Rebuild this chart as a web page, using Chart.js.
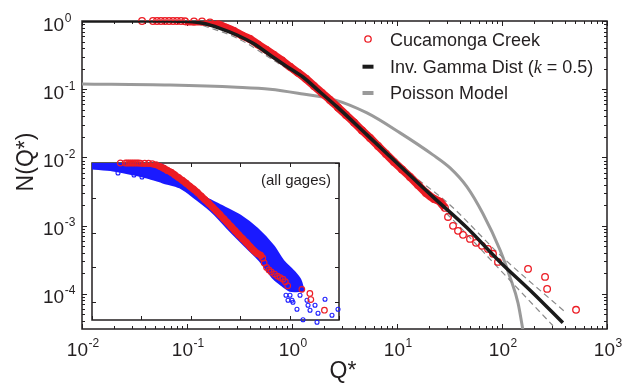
<!DOCTYPE html>
<html>
<head>
<meta charset="utf-8">
<script src="https://cdn.jsdelivr.net/npm/chart.js@4.4.1/dist/chart.umd.min.js"></script>
<style>
  html, body { margin: 0; padding: 0; background: #ffffff; }
  #wrap { position: relative; width: 625px; height: 391px; }
  #main { position: absolute; left: 0; top: 0; }
  #inset { position: absolute; left: 86px; top: 157px; }
</style>
</head>
<body>
<div id="wrap">
  <canvas id="main" width="625" height="391"></canvas>
  <canvas id="inset" width="259" height="169"></canvas>
</div>
<script>
// ---------------- data ----------------
const xTickExps = [-2, -1, 0, 1, 2, 3];
const yTickExps = [0, -1, -2, -3, -4];
const X_MIN = 0.01, X_MAX = 1000, Y_MIN = 3.05e-5, Y_MAX = 1;

// Cucamonga Creek observations
const redQ = [0.0373, 0.0474, 0.0518, 0.0565, 0.0617, 0.0674, 0.0736, 0.0803, 0.0877, 0.0957,
  0.1166, 0.139, 0.1656, 0.1973, 0.2351, 0.2803, 0.3341, 0.398, 0.4745, 0.5655,
  0.674, 0.803, 0.957, 1.141, 1.359, 1.62, 1.931, 2.301, 2.743, 3.268,
  3.895, 4.642, 5.533, 6.592, 7.858, 9.363, 11.16, 13.3, 15.85, 18.89,
  22.51, 25.68, 28.65, 30.6, 34.15, 38.11, 42.53, 49.56, 56.55, 64.5,
  73.56, 82.1, 91.6, 177, 257, 269, 507];
const redN = [1, 1, 1, 1, 1, 1, 1, 1, 1, 0.99,
  0.983, 0.985, 0.95, 0.895, 0.80, 0.712, 0.613, 0.544, 0.452, 0.381,
  0.317, 0.263, 0.213, 0.175, 0.142, 0.1116, 0.0881, 0.0696, 0.0540, 0.0420,
  0.0326, 0.0249, 0.0193, 0.01474, 0.01125, 0.00859, 0.00667, 0.00518, 0.00395, 0.00302,
  0.00246, 0.00223, 0.00182, 0.00134, 0.000992, 0.000838, 0.000732, 0.000639, 0.000559, 0.000505,
  0.000456, 0.000386, 0.000294, 0.000232, 0.000177, 0.000118, 0.0000583];

// Inverse gamma distribution (k = 0.5)
const gammaQ = [0.01, 0.0689, 0.1, 0.142, 0.206, 0.299, 0.426, 0.617, 0.896, 1.27,
  1.85, 2.69, 5.18, 10.7, 22.0, 46.4, 95.7, 197, 380];
const gammaN = [1, 1, 0.983, 0.925, 0.782, 0.624, 0.471, 0.318, 0.214, 0.151,
  0.091, 0.055, 0.0214, 0.0075, 0.00264, 0.000927, 0.000294, 0.000103, 0.0000376];

// confidence bounds (dashed)
const upQ = [0.142, 0.299, 0.617, 1.27, 2.69, 5.18, 10.7, 32.0, 95.7, 398];
const upN = [0.967, 0.667, 0.351, 0.167, 0.0608, 0.02364, 0.00776, 0.00201, 0.000373, 0.0000545];
const loQ = [0.142, 0.299, 0.617, 1.27, 2.69, 5.18, 10.7, 32.0, 95.7, 306];
const loN = [0.86, 0.563, 0.287, 0.1366, 0.0497, 0.0193, 0.00656, 0.00134, 0.000225, 0.000034];

// Poisson model
const poisQ = [0.01, 0.0689, 0.299, 0.617, 1.27, 2.46, 5.18, 10.7, 22.0, 32.0,
  46.4, 65.9, 95.7, 119, 142, 158, 163];
const poisN = [0.119, 0.115, 0.107, 0.100, 0.085, 0.071, 0.0449, 0.0229, 0.0109, 0.00702,
  0.0037, 0.00149, 0.000441, 0.000177, 0.0000738, 0.0000297, 0.000022];

// inset: all gages (blue band edges + scattered points)
const blueUpQ = [0.01, 0.207, 0.437, 0.964, 2.13, 4.49, 9.91, 21.9, 46.1, 73.5, 117, 162.5, 187];
const blueUpN = [1, 1, 0.482, 0.167, 0.0918, 0.054, 0.0297, 0.01255, 0.00406, 0.0015, 0.000774, 0.000426, 0.000219];
const blueLoQ = [0.01, 0.0266, 0.1297, 0.2735, 0.604, 1.335, 2.81, 6.22, 13.7, 25.2, 46.1, 64.0, 101.9, 187];
const blueLoN = [0.718, 0.629, 0.395, 0.284, 0.204, 0.0918, 0.0388, 0.01174, 0.0038, 0.0016, 0.00052, 0.000349, 0.000219, 0.000219];
const blueDotQ = [0.0336, 0.0708, 0.1028, 84.5, 92.9, 101.9, 112, 117, 141, 162.5,
  178, 187, 225, 236, 259, 327, 359, 376, 521, 721, 955];
const blueDotN = [0.515, 0.451, 0.395, 0.000157, 0.000113, 0.000157, 0.000113, 0.000099, 0.0000622, 0.000157,
  0.000234, 0.000031, 0.000113, 0.0000811, 0.0000582, 0.0000811, 0.0000262, 0.0000477, 0.000121, 0.0000418, 0.0000622];

// ---------------- styling ----------------
const RED = '#ec1c24', BLACK = '#1a1a1a', GRAY = '#9a9a9a', DASH = '#8a8a8a', BLUE = '#1a1aff';
const INK = '#231f20';
const FONT = '"Liberation Sans", Arial, Helvetica, sans-serif';

function pts(xs, ys) { return xs.map((x, i) => ({ x: x, y: ys[i] })); }
const redPts = pts(redQ, redN);
const bandPts = redPts.filter(p => p.x >= 0.09 && p.x <= 29);

function minorValues(min, max) {
  const out = [];
  for (let d = Math.floor(Math.log10(min)); d <= Math.ceil(Math.log10(max)); d++) {
    for (let m = 1; m <= 9; m++) {
      const v = m * Math.pow(10, d);
      if (v >= min * 0.9999 && v <= max * 1.0001) out.push({ v: v, major: m === 1 });
    }
  }
  return out;
}

function drawFrameTicks(chart, majorLen, minorLen, withMinor, lw) {
  const ctx = chart.ctx, a = chart.chartArea, xs = chart.scales.x, ys = chart.scales.y;
  ctx.save();
  ctx.strokeStyle = INK;
  ctx.lineWidth = 1;
  ctx.beginPath();
  minorValues(xs.min, xs.max).forEach(t => {
    if (!t.major && !withMinor) return;
    const len = t.major ? majorLen : minorLen;
    const px = Math.round(xs.getPixelForValue(t.v)) + 0.5;
    ctx.moveTo(px, a.bottom); ctx.lineTo(px, a.bottom - len);
    ctx.moveTo(px, a.top); ctx.lineTo(px, a.top + len);
  });
  minorValues(ys.min, ys.max).forEach(t => {
    if (!t.major && !withMinor) return;
    const len = t.major ? majorLen : minorLen;
    const py = Math.round(ys.getPixelForValue(t.v)) + 0.5;
    ctx.moveTo(a.left, py); ctx.lineTo(a.left + len, py);
    ctx.moveTo(a.right, py); ctx.lineTo(a.right - len, py);
  });
  ctx.stroke();
  ctx.lineWidth = lw;
  ctx.strokeRect(a.left, a.top, a.right - a.left, a.bottom - a.top);
  ctx.restore();
}

function drawPow(ctx, x, yBase, exp, centered) {
  const base = '10', sup = String(exp);
  ctx.font = '19px ' + FONT;
  const w1 = ctx.measureText(base).width;
  ctx.font = '12px ' + FONT;
  const w2 = ctx.measureText(sup).width;
  const x0 = centered ? x - (w1 + w2 + 0.5) / 2 : x;
  ctx.textAlign = 'left';
  ctx.textBaseline = 'alphabetic';
  ctx.font = '19px ' + FONT;
  ctx.fillText(base, x0, yBase);
  ctx.font = '12px ' + FONT;
  ctx.fillText(sup, x0 + w1 + 0.5, yBase - 9);
}

const mainDeco = {
  id: 'mainDeco',
  beforeDraw(chart) {
    const ctx = chart.ctx;
    ctx.save(); ctx.fillStyle = '#ffffff'; ctx.fillRect(0, 0, chart.width, chart.height); ctx.restore();
  },
  beforeDatasetsDraw(chart) { drawFrameTicks(chart, 5, 3, true, 1.5); },
  afterDraw(chart) {
    const ctx = chart.ctx, xs = chart.scales.x, ys = chart.scales.y;
    ctx.save();
    ctx.fillStyle = INK;
    yTickExps.forEach(e => drawPow(ctx, 43, ys.getPixelForValue(Math.pow(10, e)) + 9.5, e, false));
    xTickExps.forEach(e => drawPow(ctx, xs.getPixelForValue(Math.pow(10, e)) + 1, 355.5, e, true));
    // axis titles
    ctx.font = '23px ' + FONT;
    ctx.textAlign = 'center';
    ctx.textBaseline = 'alphabetic';
    ctx.fillText('Q*', 343, 378);
    ctx.save();
    ctx.translate(33, 162);
    ctx.rotate(-Math.PI / 2);
    ctx.fillText('N(Q*)', 0, 0);
    ctx.restore();
    // legend
    ctx.textAlign = 'left';
    ctx.font = '18px ' + FONT;
    ctx.strokeStyle = RED; ctx.lineWidth = 1.3;
    ctx.beginPath(); ctx.arc(368, 39, 3.2, 0, Math.PI * 2); ctx.stroke();
    ctx.fillText('Cucamonga Creek', 390, 45.5);
    ctx.strokeStyle = BLACK; ctx.lineWidth = 4;
    ctx.beginPath(); ctx.moveTo(362.5, 66.7); ctx.lineTo(373.5, 66.7); ctx.stroke();
    let x = 390;
    const t1 = 'Inv. Gamma Dist (';
    ctx.fillText(t1, x, 72.5); x += ctx.measureText(t1).width;
    ctx.font = 'italic 18px "Liberation Serif", "Times New Roman", serif';
    ctx.fillText('k', x, 72.5); x += ctx.measureText('k').width;
    ctx.font = '18px ' + FONT;
    ctx.fillText(' = 0.5)', x, 72.5);
    ctx.strokeStyle = GRAY; ctx.lineWidth = 4;
    ctx.beginPath(); ctx.moveTo(362.5, 93); ctx.lineTo(373.5, 93); ctx.stroke();
    ctx.fillText('Poisson Model', 390, 98.5);
    ctx.restore();
  }
};

new Chart(document.getElementById('main'), {
  type: 'line',
  data: {
    datasets: [
      { label: 'Inv. Gamma Dist (k = 0.5)', data: pts(gammaQ, gammaN), borderColor: BLACK, borderWidth: 3.5,
        pointRadius: 0, cubicInterpolationMode: 'monotone', fill: false },
      { label: 'Cucamonga Creek', data: redPts, showLine: false, pointRadius: 3.3, pointBorderWidth: 1.3,
        pointBorderColor: RED, pointBackgroundColor: 'rgba(0,0,0,0)', clip: false },
      { label: 'Cucamonga band', data: bandPts, borderColor: RED, borderWidth: 8, pointRadius: 0,
        cubicInterpolationMode: 'monotone', fill: false },
      { label: 'upper bound', data: pts(upQ, upN), borderColor: DASH, borderWidth: 1.2, borderDash: [6, 4],
        pointRadius: 0, cubicInterpolationMode: 'monotone', fill: false },
      { label: 'lower bound', data: pts(loQ, loN), borderColor: DASH, borderWidth: 1.2, borderDash: [6, 4],
        pointRadius: 0, cubicInterpolationMode: 'monotone', fill: false },
      { label: 'Poisson Model', data: pts(poisQ, poisN), borderColor: GRAY, borderWidth: 3,
        pointRadius: 0, cubicInterpolationMode: 'monotone', fill: false }
    ]
  },
  options: {
    responsive: false, animation: false, events: [],
    layout: { padding: { left: 82, top: 21, right: 18, bottom: 62 } },
    scales: {
      x: { type: 'logarithmic', min: X_MIN, max: X_MAX, display: false },
      y: { type: 'logarithmic', min: Y_MIN, max: Y_MAX, display: false }
    },
    plugins: { legend: { display: false }, tooltip: { enabled: false } }
  },
  plugins: [mainDeco]
});

const insetDeco = {
  id: 'insetDeco',
  beforeDraw(chart) {
    const ctx = chart.ctx, a = chart.chartArea;
    ctx.save(); ctx.fillStyle = '#ffffff'; ctx.fillRect(a.left, a.top, a.right - a.left, a.bottom - a.top); ctx.restore();
  },
  beforeDatasetsDraw(chart) { drawFrameTicks(chart, 4, 0, false, 1.5); },
  afterDraw(chart) {
    const ctx = chart.ctx, a = chart.chartArea;
    ctx.save();
    ctx.fillStyle = INK;
    ctx.font = '15px ' + FONT;
    ctx.textAlign = 'right';
    ctx.textBaseline = 'middle';
    ctx.fillText('(all gages)', a.right - 8, a.top + 18);
    ctx.restore();
  }
};

new Chart(document.getElementById('inset'), {
  type: 'line',
  data: {
    datasets: [
      { label: 'Cucamonga Creek', data: redPts, showLine: false, pointRadius: 2.8, pointBorderWidth: 1.2,
        pointBorderColor: RED, pointBackgroundColor: 'rgba(0,0,0,0)', clip: false },
      { label: 'Cucamonga band', data: bandPts, borderColor: RED, borderWidth: 7, pointRadius: 0,
        cubicInterpolationMode: 'monotone', fill: false },
      { label: 'all gages points', data: pts(blueDotQ, blueDotN), showLine: false, pointRadius: 2, pointBorderWidth: 1.1,
        pointBorderColor: BLUE, pointBackgroundColor: 'rgba(0,0,0,0)', clip: false },
      { label: 'all gages upper', data: pts(blueUpQ, blueUpN), borderColor: BLUE, borderWidth: 3, pointRadius: 0,
        backgroundColor: BLUE, fill: '+1', tension: 0.3 },
      { label: 'all gages lower', data: pts(blueLoQ, blueLoN), borderColor: BLUE, borderWidth: 3, pointRadius: 0,
        backgroundColor: BLUE, fill: false, tension: 0.3 }
    ]
  },
  options: {
    responsive: false, animation: false, events: [],
    layout: { padding: 6 },
    scales: {
      x: { type: 'logarithmic', min: X_MIN, max: X_MAX, display: false },
      y: { type: 'logarithmic', min: Y_MIN, max: Y_MAX, display: false }
    },
    plugins: { legend: { display: false }, tooltip: { enabled: false } }
  },
  plugins: [insetDeco]
});
</script>
</body>
</html>
